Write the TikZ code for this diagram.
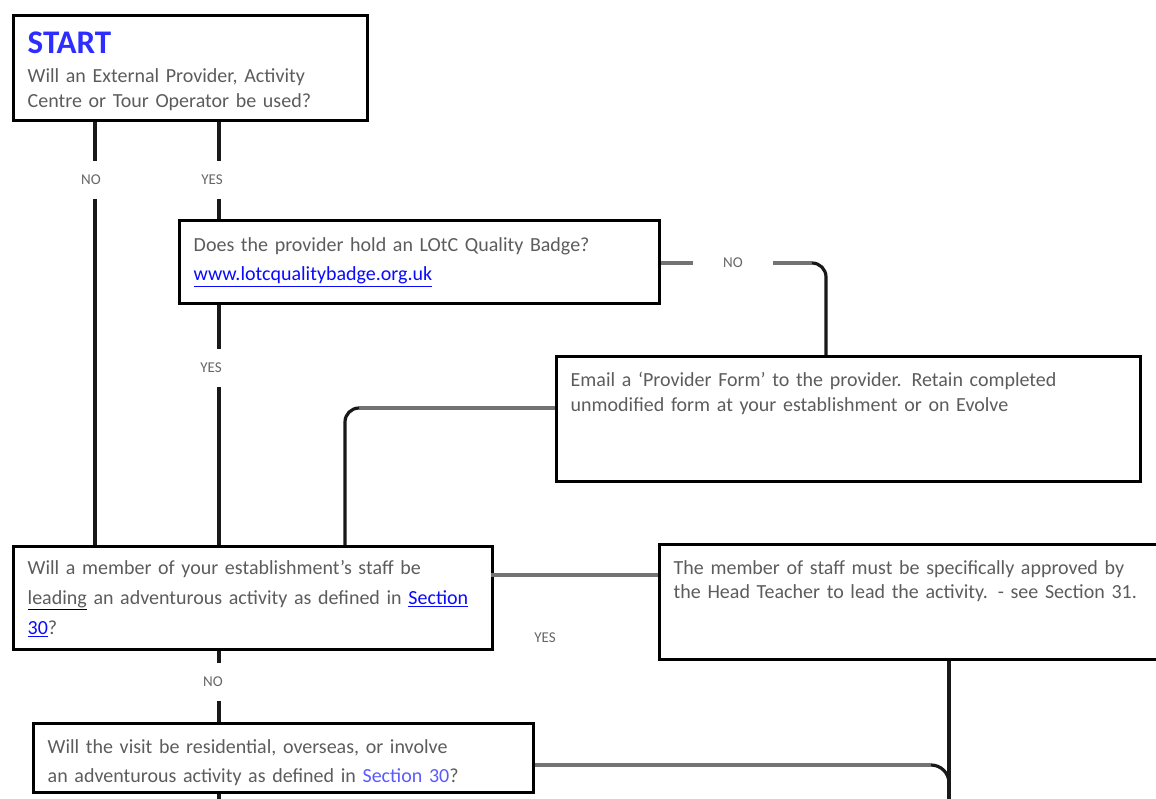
\documentclass[tikz,border=0pt]{standalone}
\usepackage{fontspec}
\setmainfont{Carlito}
\usetikzlibrary{positioning}

\definecolor{txtgray}{RGB}{92,92,92}
\definecolor{linkblue}{RGB}{10,10,255}
\definecolor{startblue}{RGB}{45,45,255}
\definecolor{sectblue}{RGB}{90,90,255}
\newcommand{\lnk}[1]{\textcolor{linkblue}{\underline{#1}}}

\begin{document}
\begin{tikzpicture}[x=1pt, y=-1pt,
  box/.style={draw, line width=3.4pt, anchor=north west, inner xsep=14pt, inner ysep=6pt,
    align=left, text=txtgray, font=\fontsize{20}{25}\selectfont},
  vconn/.style={line width=3.2pt, black!90},
  hconn/.style={line width=3.2pt, black!55},
  lbl/.style={text=black!60, font=\fontsize{15}{16}\selectfont, inner xsep=30pt, inner ysep=14pt}]
\useasboundingbox (0,0) rectangle (1156,799);
% \draw (0,0) grid (1156,799);

% boxes
\node[box, text width=326pt, text height=32pt, text depth=61pt] (start) at (12,14)
  {{\color{startblue}\bfseries\fontsize{33}{34}\selectfont START}\\[4pt]
   Will an External Provider, Activity\\
   Centre or Tour Operator be used?};
\node[box, text width=452pt, minimum height=83pt, font=\fontsize{20}{29}\selectfont] (badge) at (178,219)
  {Does the provider hold an LOtC Quality Badge?\\
   \lnk{www.lotcqualitybadge.org.uk}};
\node[box, text width=556pt, text height=24pt, text depth=89pt] (email) at (555,355)
  {Email a `Provider Form' to the provider. Retain completed\\
   unmodified form at your establishment or on Evolve};
\node[box, text width=451pt, minimum height=103pt, font=\fontsize{20}{30}\selectfont] (leadq) at (12,545)
  {Will a member of your establishment's staff be\\
   {\color{black}\underline{\textcolor{txtgray}{leading}}} an adventurous activity as defined in \lnk{Section}\\
   \lnk{30}?};
\node[box, text width=492pt, text height=24pt, text depth=79pt, font=\fontsize{20}{24}\selectfont] (staff) at (658,543)
  {The member of staff must be specifically approved by\\
   the Head Teacher to lead the activity. - see Section 31.};
\node[box, text width=472pt, text height=24pt, text depth=33pt, font=\fontsize{20}{29}\selectfont] (resid) at (32,722)
  {Will the visit be residential, overseas, or involve\\
   an adventurous activity as defined in \textcolor{sectblue}{Section 30}?};

% labels
\node[lbl] (no1) at (91,180) {NO};
\node[lbl] (yes1) at (212,180) {YES};
\node[lbl] (no2) at (733,263) {NO};
\node[lbl] (yes2) at (211,368) {YES};
\node[lbl] (yes3) at (545,638) {YES};
\node[lbl] (no3) at (213,682) {NO};

% columns, bends and loose ends
\coordinate (colNo) at (95,0);
\coordinate (colYes) at (219,0);
\coordinate (bendA) at (826,263);
\coordinate (bendB) at (345,408);
\coordinate (tapC) at (491,575);
\coordinate (bendD) at (949,765);
\coordinate (tail) at (219,805);
\coordinate (drop) at (949,805);

% connectors
\draw[vconn] (start.south -| colNo) -- (colNo |- no1.north);
\draw[vconn] (colNo |- no1.south) -- (colNo |- leadq.north);
\draw[vconn] (start.south -| colYes) -- (colYes |- yes1.north);
\draw[vconn] (colYes |- yes1.south) -- (colYes |- badge.north);
\draw[hconn] (badge.east |- no2) -- (no2.west);
\draw[hconn] (no2.east) -- ([xshift=-14pt]bendA);
\draw[vconn, rounded corners=14pt] ([xshift=-14pt]bendA) -- (bendA) -- (bendA |- email.north);
\draw[vconn] (badge.south -| colYes) -- (colYes |- yes2.north);
\draw[vconn] (colYes |- yes2.south) -- (colYes |- leadq.north);
\draw[hconn] (email.west |- bendB) -- ([xshift=14pt]bendB);
\draw[vconn, rounded corners=14pt] ([xshift=14pt]bendB) -- (bendB) -- (bendB |- leadq.north);
\draw[hconn] (tapC) -- (tapC -| staff.west);
\draw[vconn] (leadq.south -| colYes) -- (colYes |- no3.north);
\draw[vconn] (colYes |- no3.south) -- (colYes |- resid.north);
\draw[vconn] (staff.south -| drop) -- (drop);
\draw[hconn] (resid.east |- bendD) -- ([xshift=-18pt]bendD);
\draw[vconn, rounded corners=18pt] ([xshift=-18pt]bendD) -- (bendD) -- ++(0,30);
\draw[vconn] (resid.south -| tail) -- (tail);
\end{tikzpicture}
\end{document}
